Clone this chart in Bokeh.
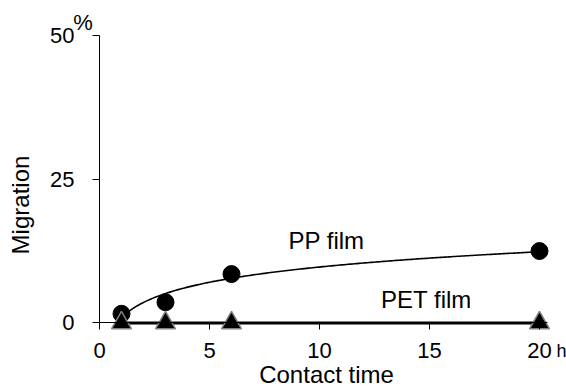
import numpy as np
from bokeh.plotting import figure
from bokeh.models import Label, FixedTicker, Range1d
from bokeh.embed import file_html
from bokeh.resources import INLINE

# ---- data ----
time_h = [1, 3, 6, 20]
pp_migration = [1.6, 3.6, 8.5, 12.5]
pet_migration = [0.0, 0.0, 0.0, 0.0]
x_ticks = [0, 5, 10, 15, 20]
y_ticks = [0, 25, 50]
series_names = ["PP film", "PET film"]
x_title = "Contact time"
y_title = "Migration"
x_unit = "h"
y_unit = "%"

FONT = "Liberation Sans"

p = figure(width=566, height=390, output_backend="svg", toolbar_location=None,
           x_range=Range1d(-4.5, 21.227), y_range=Range1d(-11.73, 56.04),
           min_border_left=0, min_border_right=0, min_border_top=0,
           min_border_bottom=0)
p.outline_line_color = None
p.grid.visible = False
p.background_fill_color = "white"
p.border_fill_color = "white"

for ax in (p.xaxis[0], p.yaxis[0]):
    ax.axis_line_color = "black"
    ax.axis_line_width = 1
    ax.major_tick_line_color = "black"
    ax.major_tick_line_width = 1
    ax.major_tick_out = 7
    ax.major_tick_in = 0
    ax.minor_tick_line_color = None
    ax.major_label_text_font = FONT
    ax.major_label_text_font_size = "22px"
    ax.major_label_text_color = "black"
    ax.fixed_location = 0

p.xaxis[0].ticker = FixedTicker(ticks=x_ticks)
p.yaxis[0].ticker = FixedTicker(ticks=y_ticks)
p.xaxis[0].bounds = (0, 20.36)
p.yaxis[0].bounds = (0, 50)
p.xaxis[0].major_label_standoff = 13
p.yaxis[0].major_label_standoff = 18

# trend lines computed from the data
xt = np.array(time_h, dtype=float)
b, a = np.polyfit(np.log(xt), np.array(pp_migration), 1)
xs = np.linspace(xt.min(), xt.max(), 200)
p.line(xs, a + b * np.log(xs), line_color="black", line_width=1.6)

m, c = np.polyfit(xt, np.array(pet_migration), 1)
p.line([xt.min(), xt.max()], [m * xt.min() + c, m * xt.max() + c],
       line_color="black", line_width=3)

p.scatter(time_h, pp_migration, marker="circle", size=17,
          fill_color="black", line_color="black")
p.scatter(time_h, pet_migration, marker="triangle", size=20,
          fill_color="black", line_color="#808080", line_width=1.5)

def lab(x, y, text, size="24px", align="center", baseline="middle", angle=0):
    p.add_layout(Label(x=x, y=y, text=text, text_font=FONT, text_font_size=size,
                       text_align=align, text_baseline=baseline, angle=angle,
                       text_color="black"))

lab(10.32, 14.33, series_names[0])
lab(14.86, 4.08, series_names[1])
lab(10.32, -8.95, x_title)
lab(-3.6, 20.5, y_title, angle=np.pi / 2)
lab(-0.75, 52.3, y_unit, size="22px")
lab(20.77, -4.95, x_unit, size="18px", align="left")

open("out.html", "w").write(file_html(p, INLINE))
